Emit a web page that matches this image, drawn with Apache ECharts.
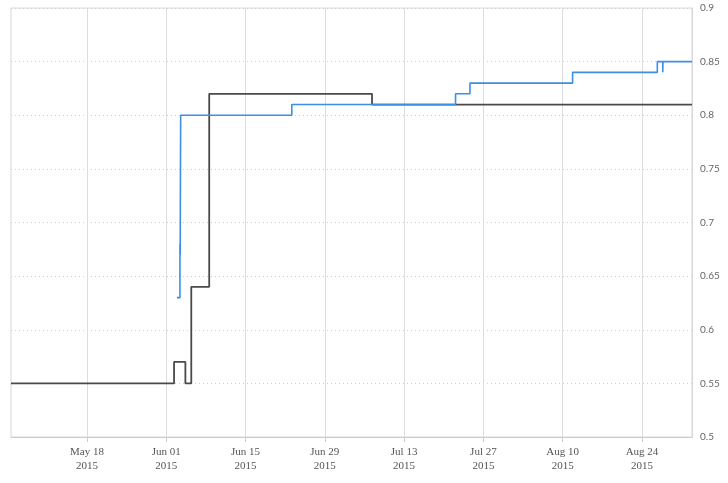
<!DOCTYPE html>
<html><head><meta charset="utf-8">
<script src="https://cdn.jsdelivr.net/npm/echarts@6/dist/echarts.min.js"></script>
<style>html,body{margin:0;padding:0;background:#fff}#c{width:728px;height:483px}</style>
</head><body><div id="c"></div>
<script>
// ---- data ----
const tickDates = ['2015-05-18','2015-06-01','2015-06-15','2015-06-29','2015-07-13','2015-07-27','2015-08-10','2015-08-24'];
const yTicks = [0.5, 0.55, 0.6, 0.65, 0.7, 0.75, 0.8, 0.85, 0.9];
const blackDates = ['2015-05-04 14:00','2015-06-02 09:00','2015-06-04 09:00','2015-06-05 10:00','2015-06-08 14:00','2015-07-07 08:00','2015-09-01 20:00'];
const blackValues = [0.55, 0.57, 0.55, 0.64, 0.82, 0.81, 0.81];
const blueDates = ['2015-06-02 21:00','2015-06-03 10:00','2015-06-03 11:00','2015-06-03 13:00','2015-06-23 04:00','2015-07-22 02:00','2015-07-24 15:00','2015-08-11 18:00','2015-08-26 17:00','2015-08-27 16:00','2015-08-27 17:00','2015-09-01 20:00'];
const blueValues = [0.63, 0.68, 0.67, 0.80, 0.81, 0.82, 0.83, 0.84, 0.85, 0.84, 0.85, 0.85];
const rangeStart = '2015-05-04 14:00';
const rangeEnd = '2015-09-01 20:00';
const monthNames = ['Jan','Feb','Mar','Apr','May','Jun','Jul','Aug','Sep','Oct','Nov','Dec'];

function toTime(s) {
  const parts = s.split(' ');
  const d = parts[0].split('-').map(Number);
  const t = (parts[1] || '00:00').split(':').map(Number);
  return new Date(d[0], d[1] - 1, d[2], t[0], t[1]).getTime();
}
const tickTimes = tickDates.map(toTime);
const blackData = blackDates.map((d, i) => [toTime(d), blackValues[i]]);
const blueData = blueDates.map((d, i) => [toTime(d), blueValues[i]]);

const chart = echarts.init(document.getElementById('c'), null, {renderer: 'canvas'});
chart.setOption({
  animation: false,
  backgroundColor: '#fff',
  grid: {left: 11, right: 36, top: 8, bottom: 46, show: true, borderColor: '#d8d8d8', borderWidth: 1},
  xAxis: {
    type: 'value',
    min: toTime(rangeStart),
    max: toTime(rangeEnd),
    axisLine: {show: true, lineStyle: {color: '#cccccc', width: 1}},
    axisTick: {show: true, customValues: tickTimes, length: 5, lineStyle: {color: '#cccccc'}},
    axisLabel: {
      customValues: tickTimes,
      color: '#555',
      fontFamily: 'Liberation Serif',
      fontSize: 11,
      lineHeight: 14,
      margin: 8,
      formatter: function (v) {
        const d = new Date(v);
        return monthNames[d.getMonth()] + ' ' + String(d.getDate()).padStart(2, '0') + '\n' + d.getFullYear();
      }
    },
    splitLine: {show: false}
  },
  yAxis: {
    type: 'value',
    position: 'right',
    min: yTicks[0],
    max: yTicks[yTicks.length - 1],
    interval: 0.05,
    axisLine: {show: true, lineStyle: {color: '#d8d8d8'}},
    axisTick: {show: false},
    axisLabel: {color: '#666', fontFamily: 'Lato', fontSize: 10, margin: 8},
    splitLine: {show: true, lineStyle: {color: '#cfcfcf', type: [1, 3], width: 1}}
  },
  series: [
    {
      type: 'line', data: [], z: 1, silent: true,
      markLine: {
        silent: true, symbol: 'none', z: 1, label: {show: false},
        lineStyle: {color: '#dddddd', type: 'solid', width: 1},
        data: tickTimes.map(t => ({xAxis: t}))
      }
    },
    {
      type: 'line', data: blackData, step: 'end', showSymbol: false, symbol: 'none', z: 3,
      lineStyle: {color: '#4a4a4a', width: 1.8}
    },
    {
      type: 'line', data: blueData, step: 'end', showSymbol: false, symbol: 'none', z: 4,
      lineStyle: {color: '#3d8fe6', width: 1.6}
    }
  ]
});
</script></body></html>
